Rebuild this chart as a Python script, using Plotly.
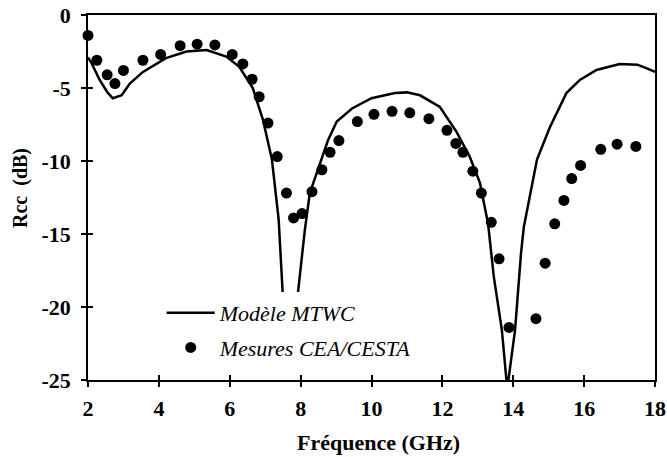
import plotly.graph_objects as go

# Modèle MTWC (courbe continue)
freq_modele = [2.0, 2.1, 2.33, 2.55, 2.7, 2.95, 3.18, 3.55, 4.2, 4.78, 5.35, 5.9, 6.27,
               6.65, 6.94, 7.19, 7.38, 7.5, 7.7, 7.92, 8.12, 8.26, 8.49, 8.77, 9.02,
               9.45, 10.0, 10.66, 11.0, 11.37, 11.93, 12.4, 12.77, 13.06, 13.29, 13.45,
               13.68, 13.83, 14.05, 14.22, 14.3, 14.67, 15.03, 15.5, 15.88, 16.35, 17.0,
               17.5, 17.77, 18.0]
rcc_modele = [-2.9, -3.3, -4.45, -5.3, -5.7, -5.5, -4.7, -3.9, -2.95, -2.5, -2.4, -2.85, -3.55,
              -5.0, -7.2, -9.9, -14.0, -19.3, -24.0, -19.3, -14.7, -12.2, -10.6, -8.6, -7.3,
              -6.4, -5.7, -5.35, -5.3, -5.5, -6.3, -8.0, -9.7, -11.5, -14.3, -17.9,
              -21.6, -25.6, -21.6, -16.3, -14.5, -9.9, -7.7, -5.35, -4.45, -3.77, -3.36,
              -3.4, -3.65, -3.9]

# Mesures CEA/CESTA (points)
freq_mesures = [2.0, 2.25, 2.54, 2.76, 3.0, 3.55, 4.05, 4.6, 5.08, 5.58, 6.07, 6.37, 6.63,
                6.83, 7.08, 7.34, 7.6, 7.8, 8.04, 8.32, 8.6, 8.83, 9.08, 9.6, 10.07, 10.58,
                11.08, 11.62, 12.13, 12.38, 12.58, 12.86, 13.1, 13.38, 13.6, 13.88, 14.64,
                14.9, 15.17, 15.43, 15.65, 15.9, 16.47, 16.93, 17.46]
rcc_mesures = [-1.4, -3.1, -4.1, -4.7, -3.8, -3.1, -2.7, -2.1, -2.0, -2.05, -2.7, -3.35, -4.4,
               -5.6, -7.4, -9.7, -12.2, -13.9, -13.6, -12.1, -10.6, -9.4, -8.6, -7.3, -6.8, -6.6,
               -6.7, -7.1, -7.9, -8.8, -9.4, -10.7, -12.2, -14.2, -16.7, -21.4, -20.8,
               -17.0, -14.3, -12.7, -11.2, -10.3, -9.2, -8.85, -9.0]

x_ticks = [2, 4, 6, 8, 10, 12, 14, 16, 18]
y_ticks = [0, -5, -10, -15, -20, -25]
x_labels = ["2", "4", "6", "8", "10", "12", "14", "16", "18"]
y_labels = ["0", "-5", "-10", "-15", "-20", "-25"]

serif = "Liberation Serif, Times New Roman, serif"

fig = go.Figure()

fig.add_trace(go.Scatter(
    x=freq_modele, y=rcc_modele, mode="lines", name="Modèle MTWC",
    line=dict(color="black", width=2.5), legendgroup="a",
))
fig.add_trace(go.Scatter(
    x=freq_mesures, y=rcc_mesures, mode="markers", name="Mesures CEA/CESTA",
    marker=dict(color="black", size=11), legendgroup="b", cliponaxis=False,
))
# axe superposé pour les graduations intérieures (traits qui croisent l'axe)
fig.add_trace(go.Scatter(x=[None], y=[None], xaxis="x2", yaxis="y2",
                         showlegend=False, hoverinfo="skip"))

fig.update_layout(
    width=667, height=457,
    margin=dict(l=88, r=12, t=15, b=77),
    paper_bgcolor="white", plot_bgcolor="white",
    font=dict(family=serif, color="black"),
    showlegend=True,
    legend=dict(
        x=0.13, y=0.241, xanchor="left", yanchor="top",
        bgcolor="white", borderwidth=0,
        font=dict(family=serif, size=22, style="italic", color="black"),
        traceorder="grouped", tracegroupgap=3, itemwidth=48,
    ),
    xaxis=dict(
        range=[2, 18], tickvals=x_ticks, ticktext=[f"<b>{t}</b>" for t in x_labels],
        ticks="outside", ticklen=5, tickwidth=1.5, tickcolor="black",
        showline=True, linecolor="black", linewidth=1.5, mirror=True,
        showgrid=False, zeroline=False, ticklabelstandoff=3, automargin=False,
        ticklabeloverflow="allow",
        tickfont=dict(family=serif, size=22),
    ),
    yaxis=dict(
        range=[-25, 0], tickvals=y_ticks, ticktext=[f"<b>{t}</b>" for t in y_labels],
        ticks="outside", ticklen=5, tickwidth=1.5, tickcolor="black",
        showline=True, linecolor="black", linewidth=1.5, mirror=True,
        showgrid=False, zeroline=False, ticklabelstandoff=6, automargin=False,
        ticklabeloverflow="allow",
        tickfont=dict(family=serif, size=22),
    ),
    xaxis2=dict(
        range=[2, 18], tickvals=x_ticks, ticks="inside", ticklen=5, tickwidth=1.5,
        tickcolor="black", showticklabels=False, showline=False, showgrid=False,
        zeroline=False, overlaying="x", anchor="y2", automargin=False,
    ),
    yaxis2=dict(
        range=[-25, 0], tickvals=y_ticks, ticks="inside", ticklen=5, tickwidth=1.5,
        tickcolor="black", showticklabels=False, showline=False, showgrid=False,
        zeroline=False, overlaying="y", anchor="x2", automargin=False,
    ),
    annotations=[
        dict(
            text="<b>Rcc  (dB)</b>", textangle=-90, showarrow=False,
            xref="paper", yref="paper", x=-0.12, y=0.526,
            xanchor="center", yanchor="middle",
            font=dict(family=serif, size=20, color="black"),
        ),
        dict(
            text="<b>Fréquence (GHz)</b>", showarrow=False,
            xref="paper", yref="paper", x=0.513, y=-0.17,
            xanchor="center", yanchor="middle",
            font=dict(family=serif, size=22, color="black"),
        ),
    ],
)

# pas de marge de 8 px autour de la figure dans la page, pas de barre d'outils
fig.write_html("out.html", config={"displayModeBar": False},
               post_script="document.body.style.margin = '0';")
